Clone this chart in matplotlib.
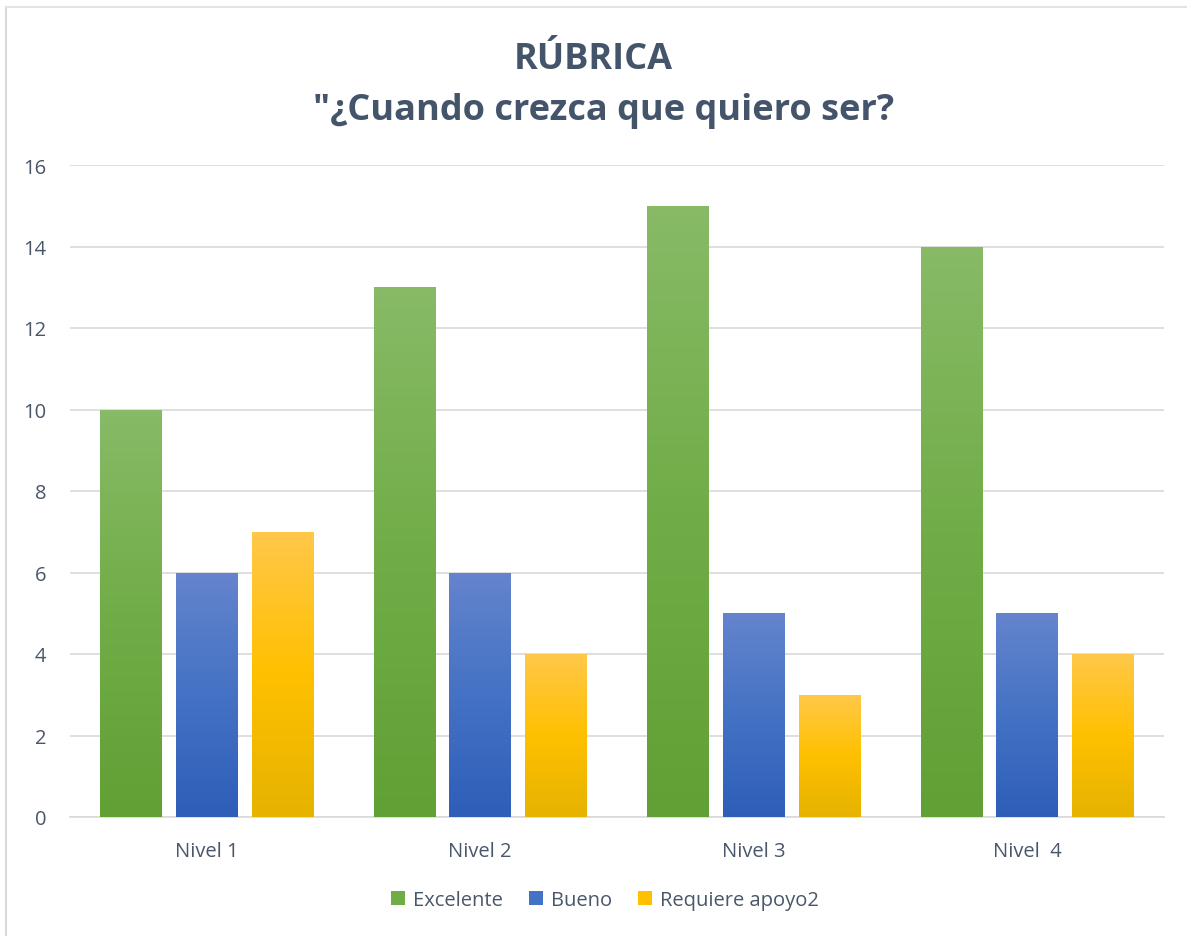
import numpy as np
import matplotlib
matplotlib.use("Agg")
import matplotlib.pyplot as plt
from matplotlib.colors import LinearSegmentedColormap
from matplotlib.patches import Patch
from matplotlib.lines import Line2D

categories = ["Nivel 1", "Nivel 2", "Nivel 3", "Nivel  4"]
series_names = ["Excelente", "Bueno", "Requiere apoyo2"]
excelente = [10, 13, 15, 14]
bueno = [6, 6, 5, 5]
requiere = [7, 4, 3, 4]
y_ticks = [0, 2, 4, 6, 8, 10, 12, 14, 16]

series_values = [excelente, bueno, requiere]
# gradient colors: top, middle, bottom
grads = [
    ("#88BA67", "#70AD47", "#61A035"),
    ("#6584CD", "#4472C4", "#2E5EB8"),
    ("#FFC84A", "#FFC000", "#E5B300"),
]
base_colors = ["#70AD47", "#4472C4", "#FFC000"]
text_color = "#4A566A"

plt.rcParams['font.family'] = ['Open Sans', 'DejaVu Sans']
fig = plt.figure(figsize=(11.87, 9.37), dpi=100)
ax = fig.add_axes([70/1187, 1-818/937, (1164-70)/1187, (818-166)/937])

x = np.arange(len(categories))
width = 0.226
offset = 0.277
for i, (vals, g) in enumerate(zip(series_values, grads)):
    cmap = LinearSegmentedColormap.from_list("g%d" % i, [g[2], g[1], g[0]])
    grad = np.linspace(0, 1, 256).reshape(-1, 1)
    bars = ax.bar(x + (i - 1) * offset, vals, width, color=base_colors[i], zorder=2, linewidth=0)
    for b in bars:
        bx, by = b.get_x(), b.get_y()
        bw, bh = b.get_width(), b.get_height()
        im = ax.imshow(grad, extent=[bx, bx + bw, by, by + bh], origin="lower",
                       aspect="auto", cmap=cmap, zorder=3, interpolation="bicubic")
        im.set_clip_path(b)

ax.set_xlim(-0.5, len(categories) - 0.5)
ax.set_ylim(0, 16)
ax.set_yticks(y_ticks)
ax.set_xticks(x)
ax.set_xticklabels(categories)
ax.grid(axis="y", color="#D9D9D9", linewidth=1.2, zorder=0)
ax.set_axisbelow(True)
for s in ["top", "right", "left"]:
    ax.spines[s].set_visible(False)
ax.spines["bottom"].set_color("#D9D9D9")
ax.spines["bottom"].set_linewidth(1.2)
ax.tick_params(axis="both", length=0, labelsize=14.5, colors=text_color)
ax.tick_params(axis="y", pad=17)
ax.tick_params(axis="x", pad=17)

fig.text(0.5, 1 - 60/937, "RÚBRICA", ha="center", va="center",
         fontsize=26, fontweight="bold", color="#44546A")
fig.text(604/1187, 1 - 111/937, "\"¿Cuando crezca que quiero ser?", ha="center", va="center",
         fontsize=26, fontweight="bold", color="#44546A")

handles = [Patch(facecolor=c, edgecolor="none") for c in base_colors]
fig.legend(handles, series_names, loc="center", bbox_to_anchor=(605/1187, 1 - 901/937),
           ncol=3, frameon=False, fontsize=14.5, labelcolor=text_color,
           handlelength=0.7, handleheight=0.7, handletextpad=0.4, columnspacing=1.3)

# chart border (only left and top edges visible)
fig.add_artist(Line2D([6/1187, 6/1187], [0, 1 - 8/937], transform=fig.transFigure,
                      color="#D9D9D9", linewidth=1.5))
fig.add_artist(Line2D([6/1187, 1], [1 - 8/937, 1 - 8/937], transform=fig.transFigure,
                      color="#E3E3E3", linewidth=1.5))

fig.savefig("out.png", dpi=100)
